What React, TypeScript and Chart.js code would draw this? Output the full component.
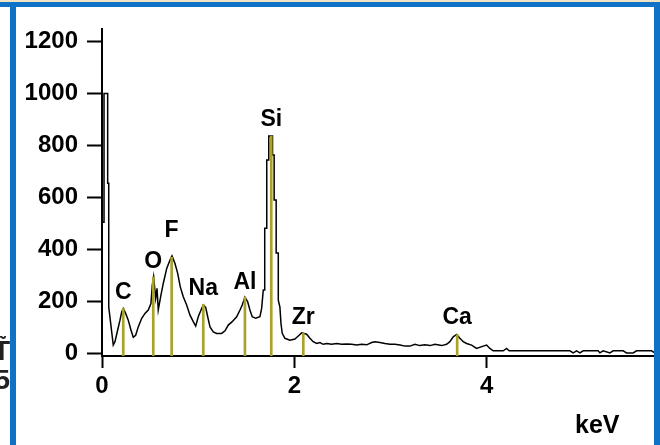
import React, { useEffect, useRef } from "react";
import { Chart, registerables } from "chart.js";

Chart.register(...registerables);

// EDS spectrum: energy (keV) and counts
const energyKeV = [
  0.0, 0.0, 0.021, 0.021, 0.059, 0.059, 0.07, 0.07, 0.117, 0.135, 0.163, 0.187,
  0.205, 0.221, 0.246, 0.273, 0.301, 0.325, 0.35, 0.377, 0.413, 0.447, 0.481,
  0.509, 0.523, 0.537, 0.558, 0.572, 0.585, 0.61, 0.637, 0.673, 0.707, 0.728,
  0.759, 0.787, 0.814, 0.845, 0.88, 0.915, 0.949, 0.974, 1.001, 1.036, 1.053,
  1.078, 1.099, 1.123, 1.157, 1.192, 1.244, 1.279, 1.313, 1.354, 1.4, 1.435,
  1.458, 1.486, 1.514, 1.538, 1.562, 1.598, 1.642, 1.66, 1.677, 1.692, 1.692,
  1.713, 1.713, 1.734, 1.734, 1.773, 1.773, 1.79, 1.79, 1.811, 1.811, 1.833,
  1.833, 1.85, 1.861, 1.874, 1.902, 1.954, 2.006, 2.041, 2.076, 2.128, 2.162,
  2.196, 2.232, 2.266, 2.3, 2.336, 2.388, 2.44, 2.492, 2.544, 2.596, 2.648, 2.7,
  2.752, 2.804, 2.838, 2.89, 2.942, 2.994, 3.046, 3.098, 3.15, 3.202, 3.254,
  3.306, 3.358, 3.41, 3.462, 3.531, 3.583, 3.617, 3.652, 3.687, 3.721, 3.756,
  3.791, 3.843, 3.895, 3.964, 3.999, 4.033, 4.068, 4.172, 4.207, 4.234, 4.865,
  4.899, 4.935, 4.969, 5.003, 5.159, 5.177, 5.211, 5.281, 5.315, 5.419, 5.454,
  5.523, 5.558, 5.714, 5.748,
];

const counts = [
  0, 505, 505, 1000, 1000, 655, 655, 179, 32, 45, 90, 128,
  160, 173, 154, 128, 90, 62, 70, 102, 135, 154, 167,
  192, 263, 295, 212, 250, 167, 218, 269, 327, 359, 375,
  346, 308, 256, 218, 186, 147, 122, 105, 141, 173, 186,
  177, 141, 102, 83, 77, 77, 87, 109, 122, 141, 167,
  186, 216, 199, 167, 141, 135, 141, 173, 244, 244, 481,
  481, 744, 744, 836, 836, 763, 763, 590, 590, 386, 386,
  205, 178, 115, 77, 58, 51, 55, 67, 79, 74, 58,
  45, 38, 42, 35, 38, 35, 38, 35, 36, 35, 32, 35,
  33, 42, 45, 42, 38, 35, 35, 32, 28, 28, 35,
  30, 33, 30, 35, 30, 35, 45, 64, 73, 58, 45,
  38, 32, 19, 28, 32, 19, 10, 10, 19, 10, 10,
  2, 10, 2, 10, 10, 2, 10, 2, 10, 10, 2,
  2, 10, 10, 2,
];

// Element line markers
const peakNames = ["C", "O", "F", "Na", "Al", "Si", "Zr", "Ca"];
const peakEnergyKeV = [0.221, 0.533, 0.724, 1.053, 1.486, 1.76, 2.093, 3.693];
const peakCounts = [173, 294, 370, 189, 216, 836, 77, 72];

// Axis ticks
const xTickValues = [0, 2, 4];
const yTickValues = [0, 200, 400, 600, 800, 1000, 1200];

const X_MIN = 0;
const X_MAX = 5.75;
const Y_MIN = -10;
const Y_MAX = 1248;

const FONT = '"Liberation Sans", Arial, Helvetica, sans-serif';
const MARKER_COLOR = "#aaa22a";
const FRAME_BLUE = "#0f72c6";

// vertical lift (px) of each element label above its marker top
const labelLift = [16, 15, 27, 16, 15, 16, 16, 17];

const peakLabelPlugin = {
  id: "peakLabels",
  afterDatasetsDraw(chart: any) {
    const { ctx, scales, chartArea } = chart;
    const xs = scales.x;
    const ys = scales.y;
    ctx.save();
    ctx.fillStyle = "#000";
    ctx.font = `bold 23px ${FONT}`;
    ctx.textAlign = "center";
    ctx.textBaseline = "middle";
    peakNames.forEach((name, i) => {
      const px = xs.getPixelForValue(peakEnergyKeV[i]);
      const py = ys.getPixelForValue(peakCounts[i]) - labelLift[i];
      ctx.fillText(name, px, py);
    });
    // axis unit
    ctx.font = `bold 25px ${FONT}`;
    ctx.textAlign = "left";
    ctx.textBaseline = "alphabetic";
    ctx.fillText("keV", chartArea.right - 80, chartArea.bottom + 77);
    ctx.restore();
  },
};

export default function App() {
  const canvasRef = useRef<HTMLCanvasElement | null>(null);

  useEffect(() => {
    const canvas = canvasRef.current;
    if (!canvas) return;

    const spectrum = energyKeV.map((e, i) => ({ x: e, y: counts[i] }));
    const markers = peakEnergyKeV.map((e, i) => ({ x: e, y: peakCounts[i] }));

    const tickFont = { family: FONT, size: 24, weight: "bold" as const };
    const plain = (v: any) => String(v);

    const chart = new Chart(canvas, {
      type: "line",
      data: {
        datasets: [
          {
            type: "bar",
            label: "lines",
            data: markers as any,
            backgroundColor: MARKER_COLOR,
            borderWidth: 0,
            barThickness: 2,
            base: Y_MIN,
            order: 0,
          } as any,
          {
            type: "line",
            label: "spectrum",
            data: spectrum as any,
            borderColor: "#000",
            borderWidth: 1.5,
            pointRadius: 0,
            tension: 0,
            fill: false,
            order: 1,
          },
        ],
      },
      options: {
        animation: false,
        responsive: false,
        devicePixelRatio: 1,
        layout: { padding: { top: 29, right: 5, left: 0, bottom: 0 } },
        plugins: {
          legend: { display: false },
          tooltip: { enabled: false },
        },
        scales: {
          x: {
            type: "linear",
            min: X_MIN,
            max: X_MAX,
            offset: false,
            afterBuildTicks: (s: any) => {
              s.ticks = xTickValues.map((v) => ({ value: v }));
            },
            afterFit: (s: any) => {
              s.height = 89;
            },
            grid: {
              offset: false,
              drawOnChartArea: false,
              drawTicks: true,
              tickLength: 12,
              tickWidth: 2,
              tickColor: "#000",
            },
            border: { display: true, color: "#000", width: 2 },
            ticks: {
              color: "#000",
              font: tickFont,
              padding: 4,
              maxRotation: 0,
              autoSkip: false,
              stepSize: 2,
              includeBounds: false,
              callback: plain,
            },
          },
          y: {
            type: "linear",
            min: Y_MIN,
            max: Y_MAX,
            afterBuildTicks: (s: any) => {
              s.ticks = yTickValues.map((v) => ({ value: v }));
            },
            afterFit: (s: any) => {
              s.width = 102;
            },
            grid: {
              offset: false,
              drawOnChartArea: false,
              drawTicks: true,
              tickLength: 15,
              tickWidth: 2,
              tickColor: "#000",
            },
            border: { display: true, color: "#000", width: 2 },
            ticks: {
              color: "#000",
              font: tickFont,
              padding: 9,
              autoSkip: false,
              stepSize: 200,
              includeBounds: false,
              callback: plain,
            },
          },
        },
      },
      plugins: [peakLabelPlugin],
    });

    return () => chart.destroy();
  }, []);

  return (
    <div
      style={{
        position: "fixed",
        left: 0,
        top: 0,
        width: 660,
        height: 445,
        background: "#fff",
        overflow: "hidden",
      }}
    >
      <canvas
        ref={canvasRef}
        width={660}
        height={445}
        style={{ position: "absolute", left: 0, top: 0, width: 660, height: 445 }}
      />
      {/* edge of the neighbouring panel */}
      <div
        style={{
          position: "absolute",
          left: 0,
          top: 336,
          width: 10,
          height: 64,
          overflow: "hidden",
        }}
      >
        <div
          style={{
            position: "absolute",
            right: 0,
            top: 0,
            fontFamily: FONT,
            fontSize: 28,
            fontWeight: "bold",
            lineHeight: "29px",
            color: "#222",
            textAlign: "right",
            whiteSpace: "pre",
          }}
        >
          {"T\u0303\n5"}
        </div>
      </div>
      {/* frame */}
      <div style={{ position: "absolute", left: 0, top: 0, width: 660, height: 2, background: "#efe4c4" }} />
      <div style={{ position: "absolute", left: 0, top: 2, width: 660, height: 5, background: FRAME_BLUE }} />
      <div style={{ position: "absolute", left: 10, top: 2, width: 6, height: 443, background: FRAME_BLUE }} />
      <div style={{ position: "absolute", left: 654, top: 2, width: 6, height: 443, background: FRAME_BLUE }} />
    </div>
  );
}
